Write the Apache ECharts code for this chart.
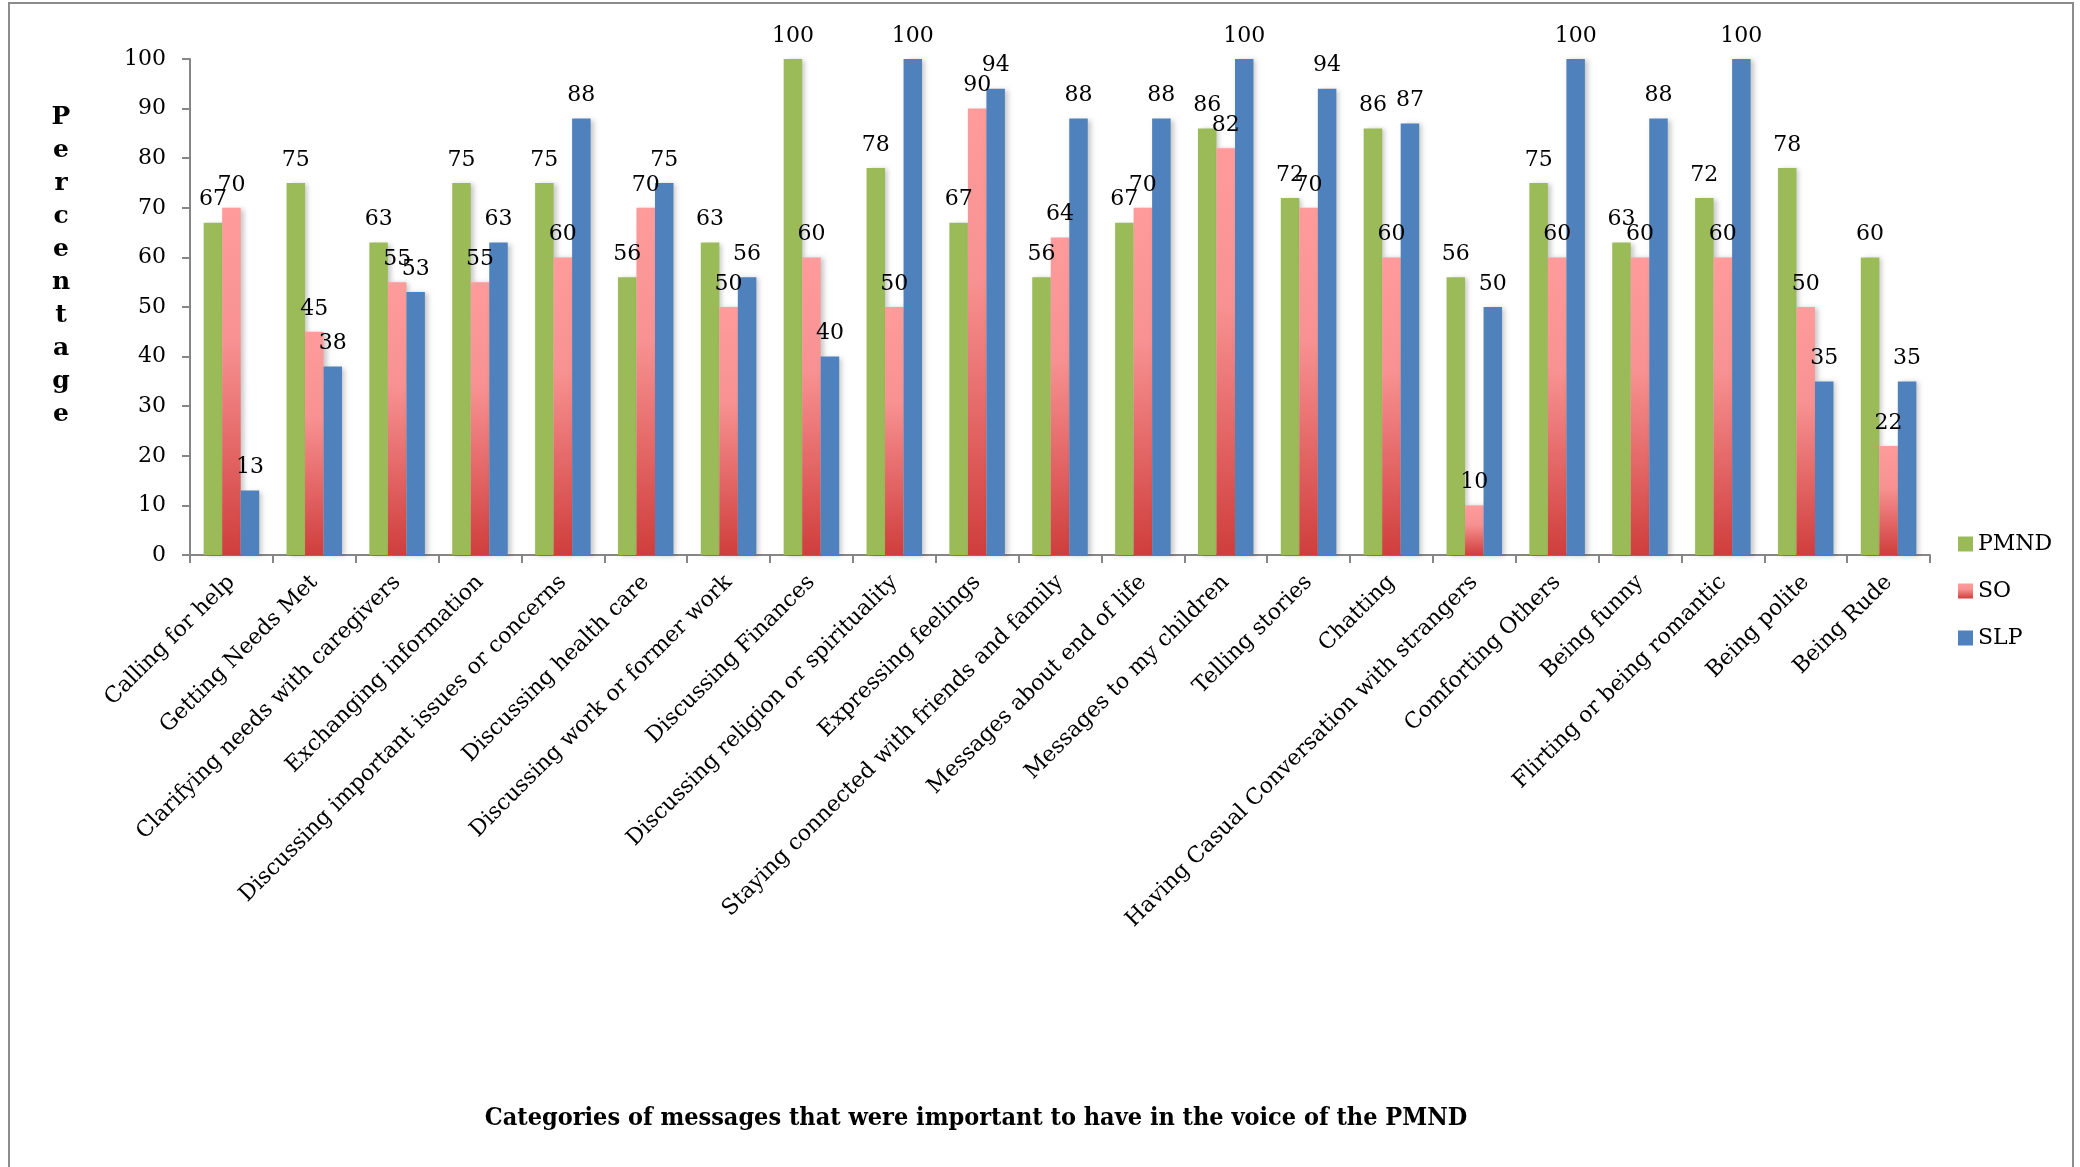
<!DOCTYPE html>
<html>
<head>
<meta charset="utf-8">
<script src="https://cdn.jsdelivr.net/npm/echarts@6/dist/echarts.min.js"></script>
<style>
  html, body { margin: 0; padding: 0; background: #fff; }
  #chart { width: 2080px; height: 1167px; }
</style>
</head>
<body>
<div id="chart"></div>
<script>
// Message categories along the x axis
const categories = [
  'Calling for help',
  'Getting Needs Met',
  'Clarifying needs with caregivers',
  'Exchanging information',
  'Discussing important issues or concerns',
  'Discussing health care',
  'Discussing work or former work',
  'Discussing Finances',
  'Discussing religion or spirituality',
  'Expressing feelings',
  'Staying connected with friends and family',
  'Messages about end of life',
  'Messages to my children',
  'Telling stories',
  'Chatting',
  'Having Casual Conversation with strangers',
  'Comforting Others',
  'Being funny',
  'Flirting or being romantic',
  'Being polite',
  'Being Rude'
];

// Percentages per respondent group
const pmnd = [67, 75, 63, 75, 75, 56, 63, 100, 78, 67, 56, 67, 86, 72, 86, 56, 75, 63, 72, 78, 60];
const so   = [70, 45, 55, 55, 60, 70, 50, 60, 50, 90, 64, 70, 82, 70, 60, 10, 60, 60, 60, 50, 22];
const slp  = [13, 38, 53, 63, 88, 75, 56, 40, 100, 94, 88, 88, 100, 94, 87, 50, 100, 88, 100, 35, 35];

const seriesNames = ['PMND', 'SO', 'SLP'];
const yTicks = { min: 0, max: 100, step: 10 };

const serif = '"DejaVu Serif", "Liberation Serif", serif';

const soGradient = new echarts.graphic.LinearGradient(0, 0, 0, 1, [
  { offset: 0, color: '#FF9B9B' },
  { offset: 0.38, color: '#F89292' },
  { offset: 1, color: '#CF3E3C' }
]);

const barShadow = {
  shadowBlur: 5,
  shadowOffsetX: 3,
  shadowOffsetY: 1,
  shadowColor: 'rgba(0,0,0,0.22)'
};

const valueLabel = {
  show: true,
  position: 'top',
  distance: 12,
  color: '#000',
  fontFamily: serif,
  fontSize: 22
};

function makeSeries(name, data, color) {
  return {
    name: name,
    type: 'bar',
    data: data,
    barGap: '0%',
    barCategoryGap: '33%',
    itemStyle: Object.assign({ color: color }, barShadow),
    label: valueLabel,
    emphasis: { disabled: true }
  };
}

const chart = echarts.init(document.getElementById('chart'), null, { renderer: 'canvas' });

chart.setOption({
  animation: false,
  backgroundColor: '#fff',
  grid: { left: 190, top: 59, width: 1740, height: 496 },
  legend: {
    orient: 'vertical',
    left: 1953,
    top: 528,
    itemWidth: 15,
    itemHeight: 15,
    itemGap: 25,
    icon: 'rect',
    data: seriesNames,
    textStyle: { fontFamily: serif, fontSize: 22, color: '#000', lineHeight: 22 }
  },
  xAxis: {
    type: 'category',
    data: categories,
    axisLine: { lineStyle: { color: '#868686', width: 2 } },
    axisTick: { show: true, length: 8, lineStyle: { color: '#868686', width: 2 } },
    axisLabel: {
      interval: 0,
      rotate: 45,
      margin: 24,
      color: '#000',
      fontFamily: serif,
      fontSize: 22
    },
    splitLine: { show: false }
  },
  yAxis: {
    type: 'value',
    min: yTicks.min,
    max: yTicks.max,
    interval: yTicks.step,
    axisLine: { show: true, lineStyle: { color: '#868686', width: 2 } },
    axisTick: { show: true, length: 8, lineStyle: { color: '#868686', width: 2 } },
    axisLabel: { margin: 24, color: '#000', fontFamily: serif, fontSize: 22 },
    splitLine: { show: false }
  },
  series: [
    makeSeries(seriesNames[0], pmnd, '#9BBB59'),
    makeSeries(seriesNames[1], so, soGradient),
    makeSeries(seriesNames[2], slp, '#4F81BD')
  ],
  graphic: [
    {
      type: 'rect',
      shape: { x: 9, y: 3, width: 2064, height: 1200 },
      style: { fill: null, stroke: '#8C8C8C', lineWidth: 2 },
      silent: true,
      z: -1
    },
    {
      type: 'text',
      x: 61,
      y: 101,
      style: {
        text: 'P\ne\nr\nc\ne\nn\nt\na\ng\ne',
        fontFamily: serif,
        fontWeight: 'bold',
        fontSize: 25,
        lineHeight: 33,
        align: 'center',
        verticalAlign: 'top',
        fill: '#000'
      }
    },
    {
      type: 'text',
      x: 976,
      y: 1106,
      style: {
        text: 'Categories of messages that were important to have in the voice of the PMND',
        fontFamily: '"DejaVu Serif Condensed", "Liberation Serif", serif',
        fontWeight: 'bold',
        fontSize: 25,
        align: 'center',
        verticalAlign: 'top',
        fill: '#000'
      }
    }
  ]
});
</script>
</body>
</html>
